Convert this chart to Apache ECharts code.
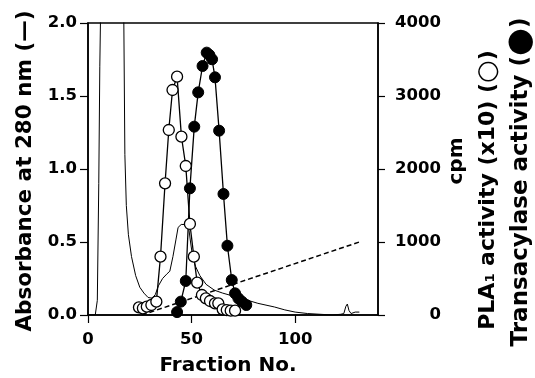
<!DOCTYPE html>
<html>
<head>
<meta charset="utf-8">
<script src="https://cdn.jsdelivr.net/npm/echarts@6.0.0/dist/echarts.min.js"></script>
<style>
html,body{margin:0;padding:0;background:#fff;}
#chart{width:535px;height:378px;}
</style>
</head>
<body>
<div id="chart"></div>
<script>
// Absorbance at 280 nm (left axis)
const absFraction = [0, 3.5, 4.5, 5.2, 5.7, 7, 12, 16, 17.3, 17.8, 18.5, 19.5, 21, 23, 25, 27, 29, 31, 32.5, 34, 36, 38, 39.5, 41, 42.5, 43.5, 45, 47, 48.5, 49.5, 50.5, 52, 54, 57, 61, 65, 70, 75, 82, 90, 95, 100, 106, 112, 118, 122, 123.5, 124.5, 125.2, 126, 127, 129, 131];
const absValues   = [0, 0, 0.1, 0.9, 1.7, 3, 4, 3, 2.0, 1.1, 0.75, 0.55, 0.4, 0.27, 0.19, 0.15, 0.12, 0.115, 0.14, 0.2, 0.25, 0.28, 0.3, 0.4, 0.52, 0.6, 0.62, 0.62, 0.61, 0.5, 0.4, 0.33, 0.27, 0.21, 0.17, 0.15, 0.13, 0.11, 0.08, 0.055, 0.035, 0.02, 0.01, 0.005, 0.0, 0.005, 0.01, 0.06, 0.075, 0.03, 0.01, 0.02, 0.02];
// Gradient (dashed, left axis)
const gradFraction = [26, 131];
const gradValues   = [0, 0.5];
// PLA1 activity (x10), cpm (right axis), open circles
const plaFraction = [24.6, 26.5, 28.4, 30.6, 33, 35, 37.2, 39, 40.8, 43, 45.1, 47.2, 49.2, 51.1, 52.7, 55, 56.9, 58.9, 61.3, 62.9, 65, 67, 68.9, 71];
const plaCpm      = [105, 92, 114, 137, 183, 799, 1804, 2534, 3082, 3265, 2443, 2041, 1247, 799, 443, 274, 228, 192, 160, 160, 78, 68, 59, 59];
// Transacylase activity, cpm (right axis), filled circles
const transFraction = [43, 44.8, 47.2, 49.2, 51.3, 53.2, 55.3, 57.3, 58.6, 59.9, 61.3, 63.3, 65.4, 67.3, 69.4, 71, 72.6, 74.3, 76.4];
const transCpm      = [40, 183, 466, 1735, 2580, 3050, 3411, 3594, 3562, 3503, 3256, 2525, 1658, 949, 479, 297, 228, 183, 137];
// Axis ticks
const xTicks = [0, 50, 100];
const leftTicks = [0, 0.5, 1.0, 1.5, 2.0];
const rightTicks = [0, 1000, 2000, 3000, 4000];

const pair = (xs, ys) => xs.map((x, i) => [x, ys[i]]);
const FONT = '"DejaVu Sans", sans-serif';

const chart = echarts.init(document.getElementById('chart'), null, {renderer: 'canvas'});
chart.setOption({
  animation: false,
  backgroundColor: '#fff',
  textStyle: {fontFamily: FONT, color: '#000'},
  grid: {left: 88, right: 157, top: 23, bottom: 63, show: true, borderColor: '#000', borderWidth: 1.5, backgroundColor: 'transparent'},
  xAxis: {
    type: 'value', min: 0, max: 140, interval: 50,
    axisLine: {lineStyle: {color: '#000', width: 1.5}},
    axisTick: {show: true, inside: false, length: 8, lineStyle: {color: '#000', width: 1.2}, customValues: xTicks},
    axisLabel: {color: '#000', fontFamily: FONT, fontWeight: 'bold', fontSize: 16.5, margin: 16, customValues: xTicks,
      formatter: v => String(v)},
    splitLine: {show: false}
  },
  yAxis: [
    {
      type: 'value', position: 'left', min: 0, max: 2, interval: 0.5,
      axisLine: {show: true, lineStyle: {color: '#000', width: 1.5}},
      axisTick: {show: true, inside: false, length: 8, lineStyle: {color: '#000', width: 1.2}, customValues: leftTicks},
      axisLabel: {color: '#000', fontFamily: FONT, fontWeight: 'bold', fontSize: 16.5, margin: 11, customValues: leftTicks,
        formatter: v => Number(v).toFixed(1)},
      splitLine: {show: false}
    },
    {
      type: 'value', position: 'right', min: 0, max: 4000, interval: 1000,
      axisLine: {show: true, lineStyle: {color: '#000', width: 1.5}},
      axisTick: {show: true, inside: false, length: 7, lineStyle: {color: '#000', width: 1.2}, customValues: rightTicks},
      axisLabel: {color: '#000', fontFamily: FONT, fontWeight: 'bold', fontSize: 16.5, margin: 63, align: 'right', customValues: rightTicks,
        formatter: v => String(Math.round(v))},
      splitLine: {show: false}
    }
  ],
  series: [
    {
      name: 'Absorbance', type: 'line', yAxisIndex: 0, data: pair(absFraction, absValues),
      symbol: 'none', clip: true, lineStyle: {color: '#000', width: 1}, z: 2
    },
    {
      name: 'Gradient', type: 'line', yAxisIndex: 0, data: pair(gradFraction, gradValues),
      symbol: 'none', lineStyle: {color: '#000', width: 1.5, type: [5, 3]}, z: 2
    },
    {
      name: 'Transacylase', type: 'line', yAxisIndex: 1, data: pair(transFraction, transCpm),
      symbol: 'circle', symbolSize: 11,
      itemStyle: {color: '#000', borderColor: '#000', borderWidth: 1},
      lineStyle: {color: '#000', width: 1.3}, z: 3
    },
    {
      name: 'PLA1', type: 'line', yAxisIndex: 1, data: pair(plaFraction, plaCpm),
      symbol: 'circle', symbolSize: 11,
      itemStyle: {color: '#fff', borderColor: '#000', borderWidth: 1.3},
      lineStyle: {color: '#000', width: 1.3}, z: 4
    }
  ],
  graphic: [
    {type: 'text', x: 25, y: 171, rotation: Math.PI / 2,
      style: {text: 'Absorbance at 280 nm (\u2014)', fontFamily: FONT, fontWeight: 'bold', fontSize: 21.5, fill: '#000',
        align: 'center', verticalAlign: 'middle', textAlign: 'center', textVerticalAlign: 'middle'}},
    {type: 'text', x: 228, y: 366,
      style: {text: 'Fraction No.', fontFamily: FONT, fontWeight: 'bold', fontSize: 20, fill: '#000',
        align: 'center', verticalAlign: 'middle', textAlign: 'center', textVerticalAlign: 'middle'}},
    {type: 'text', x: 457, y: 161, rotation: Math.PI / 2,
      style: {text: 'cpm', fontFamily: FONT, fontWeight: 'bold', fontSize: 20, fill: '#000',
        align: 'center', verticalAlign: 'middle', textAlign: 'center', textVerticalAlign: 'middle'}},
    {type: 'text', x: 488, y: 190, rotation: Math.PI / 2,
      style: {text: '{a|PLA}{s|1}{a| activity (x10) (}{c|\u25CB}{a|)}', fontFamily: FONT, fontWeight: 'bold', fontSize: 22, fill: '#000',
        align: 'center', verticalAlign: 'middle', textAlign: 'center', textVerticalAlign: 'middle',
        rich: {
          a: {fontFamily: FONT, fontWeight: 'bold', fontSize: 22, fill: '#000'},
          s: {fontFamily: FONT, fontWeight: 'bold', fontSize: 13, fill: '#000', padding: [6, 0, 0, 0]},
          c: {fontFamily: FONT, fontWeight: 'normal', fontSize: 26, fill: '#000'}
        }}},
    {type: 'text', x: 521, y: 182, rotation: Math.PI / 2,
      style: {text: '{a|Transacylase activity (}{c|\u25CF}{a|)}', fontFamily: FONT, fontWeight: 'bold', fontSize: 23, fill: '#000',
        align: 'center', verticalAlign: 'middle', textAlign: 'center', textVerticalAlign: 'middle',
        rich: {
          a: {fontFamily: FONT, fontWeight: 'bold', fontSize: 23, fill: '#000'},
          c: {fontFamily: FONT, fontWeight: 'normal', fontSize: 32, fill: '#000'}
        }}}
  ]
});
</script>
</body>
</html>
